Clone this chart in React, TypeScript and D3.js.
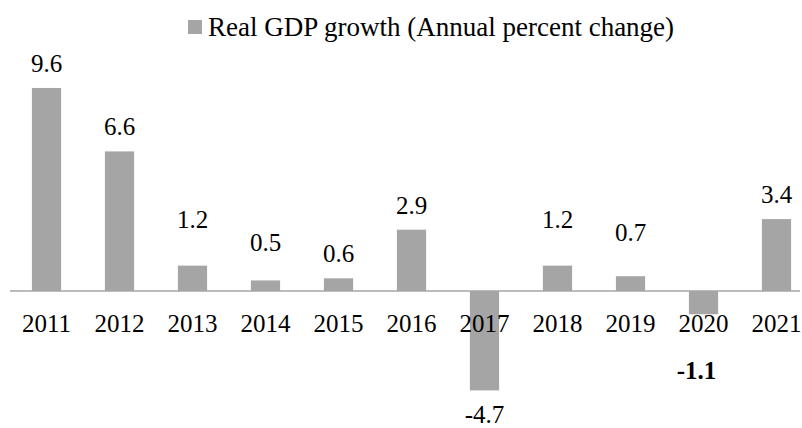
import React, { useRef, useEffect } from "react";
import * as d3 from "d3";

const years = ["2011", "2012", "2013", "2014", "2015", "2016", "2017", "2018", "2019", "2020", "2021"];
const growth = [9.6, 6.6, 1.2, 0.5, 0.6, 2.9, -4.7, 1.2, 0.7, -1.1, 3.4];
const boldLabels = ["2020"];
const legendLabel = "Real GDP growth (Annual percent change)";

// manual label gaps from the bar end (px), like the hand placed labels in the original
const labelGap = [16, 16, 38, 29, 16, 16, 33, 38, 35, 65, 16];

const W = 802;
const H = 428;

export default function App() {
  const svgRef = useRef<SVGSVGElement>(null);

  useEffect(() => {
    const svg = d3.select(svgRef.current);
    svg.selectAll("*").remove();

    const x = d3.scaleBand().domain(years).range([10, 813]).paddingInner(0.6).paddingOuter(0.3);
    const y = d3.scaleLinear().domain([-5, 10]).range([396.75, 79.5]);

    const font = "Liberation Serif, Times New Roman, serif";

    // bars
    svg.selectAll(".bar")
      .data(growth)
      .join("rect")
      .attr("class", "bar")
      .attr("x", (d, i) => x(years[i])!)
      .attr("width", x.bandwidth())
      .attr("y", (d) => y(Math.max(0, d)))
      .attr("height", (d) => Math.abs(y(d) - y(0)))
      .attr("fill", "#a5a5a5");

    // zero line
    svg.append("line")
      .attr("x1", 10)
      .attr("x2", 800)
      .attr("y1", y(0))
      .attr("y2", y(0))
      .attr("stroke", "#a6a6a6")
      .attr("stroke-width", 1.5);

    // category labels
    svg.selectAll(".cat")
      .data(years)
      .join("text")
      .attr("class", "cat")
      .attr("x", (d) => x(d)! + x.bandwidth() / 2)
      .attr("y", 332)
      .attr("text-anchor", "middle")
      .attr("font-family", font)
      .attr("font-size", 25)
      .attr("fill", "#000")
      .text((d) => d);

    // value labels
    svg.selectAll(".val")
      .data(growth)
      .join("text")
      .attr("class", "val")
      .attr("x", (d, i) => x(years[i])! + x.bandwidth() / 2 + (boldLabels.includes(years[i]) ? -7 : 0))
      .attr("y", (d, i) => (d >= 0 ? y(d) - labelGap[i] : y(d) + labelGap[i]))
      .attr("text-anchor", "middle")
      .attr("font-family", font)
      .attr("font-size", 25)
      .attr("font-weight", (d, i) => (boldLabels.includes(years[i]) ? "bold" : "normal"))
      .attr("fill", "#000")
      .text((d) => d.toFixed(1));

    // legend
    const legend = svg.append("g");
    legend.append("rect")
      .attr("x", 188)
      .attr("y", 20)
      .attr("width", 14)
      .attr("height", 14)
      .attr("fill", "#a5a5a5");
    legend.append("text")
      .attr("x", 208)
      .attr("y", 36)
      .attr("font-family", font)
      .attr("font-size", 27)
      .attr("fill", "#000")
      .text(legendLabel);
  }, []);

  return (
    <svg
      ref={svgRef}
      width={W}
      height={H}
      style={{ position: "absolute", left: 0, top: 0, background: "#fff" }}
    />
  );
}
